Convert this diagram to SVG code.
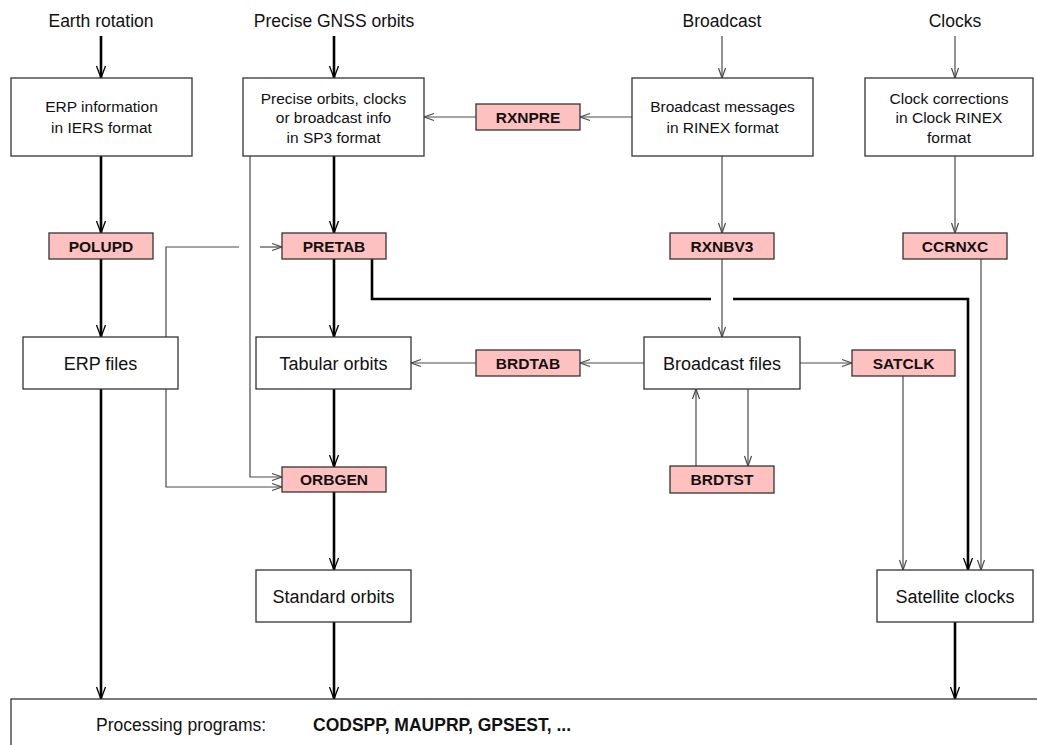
<svg xmlns="http://www.w3.org/2000/svg" width="1037" height="745" viewBox="0 0 1037 745">
<style>
text{font-family:"Liberation Sans",Arial,sans-serif;fill:#111;text-anchor:middle}
.title{font-size:17.5px}
.t1{font-size:15.5px}
.t2{font-size:18px}
.prog{font-size:15.5px;font-weight:bold}
.box{fill:#fff;stroke:#333;stroke-width:1.3}
.pbox{fill:#ffc0c0;stroke:#333;stroke-width:1.3}
.thick{fill:none;stroke:#000;stroke-width:2.6}
.thin{fill:none;stroke:#4a4a4a;stroke-width:1.2}
</style>
<defs>
<marker id="ak" markerUnits="userSpaceOnUse" markerWidth="14" markerHeight="12" refX="13" refY="6" orient="auto"><path d="M1,1.5 L13,6 L1,10.5" fill="none" stroke="#000" stroke-width="1.3"/></marker>
<marker id="an" markerUnits="userSpaceOnUse" markerWidth="12" markerHeight="10" refX="11" refY="5" orient="auto"><path d="M1,1.5 L11,5 L1,8.5" fill="none" stroke="#4a4a4a" stroke-width="1.2"/></marker>
</defs>
<rect width="1037" height="745" fill="#fff"/>

<g id="titles">
<text class="title" x="101" y="27">Earth rotation</text>
<text class="title" x="334" y="27">Precise GNSS orbits</text>
<text class="title" x="722" y="27">Broadcast</text>
<text class="title" x="955" y="27">Clocks</text>
</g>

<g id="connectors">
<g class="thick" marker-end="url(#ak)">
<path d="M101,36 V78"/>
<path d="M334,36 V78"/>
<path d="M101,156 V233"/>
<path d="M101,259 V337"/>
<path d="M101,389 V699"/>
<path d="M334,156 V233"/>
<path d="M334,259 V337"/>
<path d="M334,389 V467"/>
<path d="M334,492 V570"/>
<path d="M334,622 V699"/>
<path d="M955,622 V699"/>
<path d="M733,299 H968 V570"/>
</g>
<path class="thick" d="M372,259 V299 H711"/>
<g class="thin" marker-end="url(#an)">
<path d="M722,36 V78"/>
<path d="M955,36 V78"/>
<path d="M632,117 H580"/>
<path d="M476,117 H424"/>
<path d="M722,156 V233"/>
<path d="M722,259 V337"/>
<path d="M955,156 V233"/>
<path d="M981,259 V570"/>
<path d="M644,363 H580"/>
<path d="M476,363 H411"/>
<path d="M800,363 H852"/>
<path d="M903,376 V570"/>
<path d="M696,466 V389"/>
<path d="M748,389 V466"/>
<path d="M250,156 V477 H282"/>
<path d="M260,247 H282"/>
<path d="M166,389 V487 H282"/>
</g>
<path class="thin" d="M166,337 V247 H239"/>
</g>

<g id="erp-info"><rect class="box" x="11" y="78" width="181" height="78"/>
<text class="t1" x="101.5" y="112">ERP information</text><text class="t1" x="101.5" y="132.5">in IERS format</text></g>
<g id="precise"><rect class="box" x="243" y="78" width="181" height="78"/>
<text class="t1" x="333.5" y="103.5">Precise orbits, clocks</text><text class="t1" x="333.5" y="123">or broadcast info</text><text class="t1" x="333.5" y="142.5">in SP3 format</text></g>
<g id="bc-msg"><rect class="box" x="632" y="78" width="181" height="78"/>
<text class="t1" x="722.5" y="112">Broadcast messages</text><text class="t1" x="722.5" y="132.5">in RINEX format</text></g>
<g id="clock-corr"><rect class="box" x="865" y="78" width="168" height="78"/>
<text class="t1" x="949" y="103.5">Clock corrections</text><text class="t1" x="949" y="123">in Clock RINEX</text><text class="t1" x="949" y="142.5">format</text></g>

<g id="rxnpre"><rect class="pbox" x="476" y="104" width="104" height="26"/><text class="prog" x="528" y="122.5">RXNPRE</text></g>
<g id="polupd"><rect class="pbox" x="49" y="233" width="104" height="26"/><text class="prog" x="101" y="251.5">POLUPD</text></g>
<g id="pretab"><rect class="pbox" x="282" y="233" width="104" height="26"/><text class="prog" x="334" y="251.5">PRETAB</text></g>
<g id="rxnbv3"><rect class="pbox" x="670" y="233" width="104" height="26"/><text class="prog" x="722" y="251.5">RXNBV3</text></g>
<g id="ccrnxc"><rect class="pbox" x="903" y="233" width="104" height="26"/><text class="prog" x="955" y="251.5">CCRNXC</text></g>

<g id="erp-files"><rect class="box" x="23" y="337" width="155" height="52"/><text class="t2" x="100.5" y="369.5">ERP files</text></g>
<g id="tab-orbits"><rect class="box" x="256" y="337" width="155" height="52"/><text class="t2" x="333.5" y="369.5">Tabular orbits</text></g>
<g id="brdtab"><rect class="pbox" x="476" y="350" width="104" height="26"/><text class="prog" x="528" y="368.5">BRDTAB</text></g>
<g id="bc-files"><rect class="box" x="644" y="337" width="156" height="52"/><text class="t2" x="722" y="369.5">Broadcast files</text></g>
<g id="satclk"><rect class="pbox" x="852" y="350" width="103" height="26"/><text class="prog" x="903.5" y="368.5">SATCLK</text></g>

<g id="orbgen"><rect class="pbox" x="282" y="467" width="104" height="25"/><text class="prog" x="334" y="485">ORBGEN</text></g>
<g id="brdtst"><rect class="pbox" x="670" y="466" width="104" height="27"/><text class="prog" x="722" y="485">BRDTST</text></g>

<g id="std-orbits"><rect class="box" x="256" y="570" width="155" height="52"/><text class="t2" x="333.5" y="602.5">Standard orbits</text></g>
<g id="sat-clocks"><rect class="box" x="877" y="570" width="156" height="52"/><text class="t2" x="955" y="602.5">Satellite clocks</text></g>

<g id="processing"><rect class="box" x="11" y="699" width="1040" height="60"/>
<text class="t2" x="96" y="731" style="font-size:17.5px;text-anchor:start">Processing programs:</text>
<text x="313" y="731" style="font-size:17.5px;font-weight:bold;text-anchor:start">CODSPP, MAUPRP, GPSEST, ...</text></g>
</svg>
